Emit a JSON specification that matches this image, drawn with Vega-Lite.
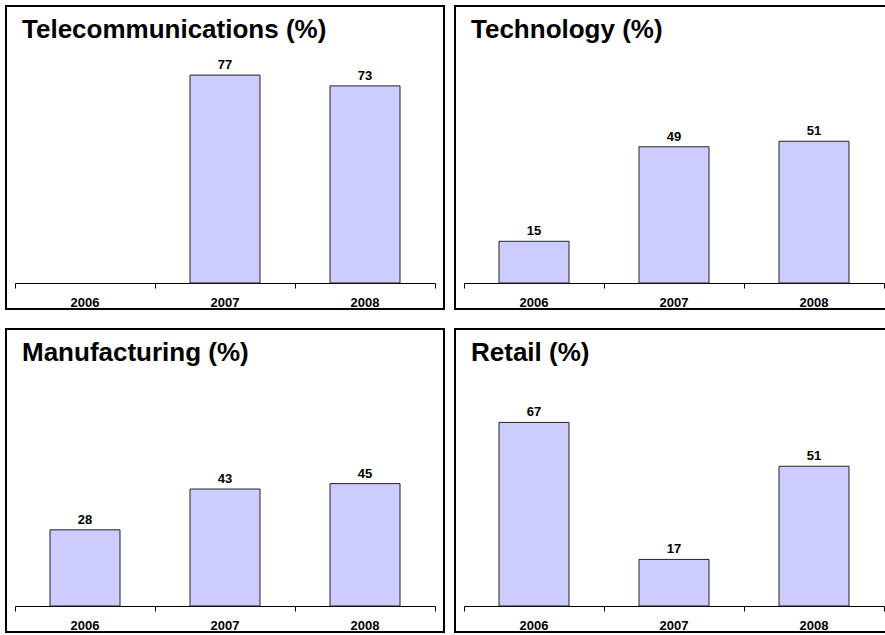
{
  "$schema": "https://vega.github.io/schema/vega-lite/v6.json",
  "padding": {"left": 5, "top": 5, "right": 0, "bottom": 0},
  "autosize": {"type": "pad"},
  "background": "white",
  "config": {
    "view": {"stroke": "black", "strokeWidth": 2},
    "font": "Liberation Sans",
    "title": {"anchor": "start", "frame": "group", "fontSize": 26, "fontWeight": "bold", "color": "black", "offset": -37, "dx": 16, "font": "Liberation Sans"},
    "axisX": {
      "title": null, "offset": -26, "domainColor": "black", "domainWidth": 1,
      "tickColor": "black", "tickSize": 5, "tickWidth": 1, "bandPosition": 1, "tickExtra": true,
      "labelFontSize": 13, "labelFontWeight": "bold", "labelColor": "black", "labelBaseline": "alphabetic",
      "labelPadding": 18, "labelAngle": 0, "grid": false, "labelFont": "Liberation Sans"
    }
  },
  "datasets": {
    "d": [
      {"sector": "Telecommunications", "year": "2007", "value": 77},
      {"sector": "Telecommunications", "year": "2008", "value": 73},
      {"sector": "Technology", "year": "2006", "value": 15},
      {"sector": "Technology", "year": "2007", "value": 49},
      {"sector": "Technology", "year": "2008", "value": 51},
      {"sector": "Manufacturing", "year": "2006", "value": 28},
      {"sector": "Manufacturing", "year": "2007", "value": 43},
      {"sector": "Manufacturing", "year": "2008", "value": 45},
      {"sector": "Retail", "year": "2006", "value": 67},
      {"sector": "Retail", "year": "2007", "value": 17},
      {"sector": "Retail", "year": "2008", "value": 51}
    ]
  },
  "spacing": 18,
  "vconcat": [
    {
      "spacing": 9,
      "hconcat": [
        {
          "title": "Telecommunications (%)",
          "width": 438, "height": 303,
          "data": {"name": "d"},
          "transform": [{"filter": "datum.sector === 'Telecommunications'"}],
          "encoding": {
            "x": {"field": "year", "type": "nominal", "title": null, "scale": {"domain": ["2006", "2007", "2008"], "range": [9, 429], "paddingInner": 0, "paddingOuter": 0}},
            "y": {"field": "value", "type": "quantitative", "axis": null, "scale": {"domain": [-9.63, 102.59]}}
          },
          "layer": [
            {"mark": {"type": "bar", "width": {"band": 0.5}, "fill": "#CCCCFF", "stroke": "#222222", "strokeWidth": 1}, "encoding": {"y2": {"datum": 0}}},
            {"mark": {"type": "text", "dy": -6, "fontSize": 13, "fontWeight": "bold", "baseline": "alphabetic", "color": "black"}, "encoding": {"text": {"field": "value"}}}
          ]
        },
        {
          "title": "Technology (%)",
          "width": 438, "height": 303,
          "data": {"name": "d"},
          "transform": [{"filter": "datum.sector === 'Technology'"}],
          "encoding": {
            "x": {"field": "year", "type": "nominal", "title": null, "scale": {"domain": ["2006", "2007", "2008"], "range": [9, 429], "paddingInner": 0, "paddingOuter": 0}},
            "y": {"field": "value", "type": "quantitative", "axis": null, "scale": {"domain": [-9.35, 99.64]}}
          },
          "layer": [
            {"mark": {"type": "bar", "width": {"band": 0.5}, "fill": "#CCCCFF", "stroke": "#222222", "strokeWidth": 1}, "encoding": {"y2": {"datum": 0}}},
            {"mark": {"type": "text", "dy": -6, "fontSize": 13, "fontWeight": "bold", "baseline": "alphabetic", "color": "black"}, "encoding": {"text": {"field": "value"}}}
          ]
        }
      ]
    },
    {
      "spacing": 9,
      "hconcat": [
        {
          "title": "Manufacturing (%)",
          "width": 438, "height": 303,
          "data": {"name": "d"},
          "transform": [{"filter": "datum.sector === 'Manufacturing'"}],
          "encoding": {
            "x": {"field": "year", "type": "nominal", "title": null, "scale": {"domain": ["2006", "2007", "2008"], "range": [9, 429], "paddingInner": 0, "paddingOuter": 0}},
            "y": {"field": "value", "type": "quantitative", "axis": null, "scale": {"domain": [-9.56, 101.84]}}
          },
          "layer": [
            {"mark": {"type": "bar", "width": {"band": 0.5}, "fill": "#CCCCFF", "stroke": "#222222", "strokeWidth": 1}, "encoding": {"y2": {"datum": 0}}},
            {"mark": {"type": "text", "dy": -6, "fontSize": 13, "fontWeight": "bold", "baseline": "alphabetic", "color": "black"}, "encoding": {"text": {"field": "value"}}}
          ]
        },
        {
          "title": "Retail (%)",
          "width": 438, "height": 303,
          "data": {"name": "d"},
          "transform": [{"filter": "datum.sector === 'Retail'"}],
          "encoding": {
            "x": {"field": "year", "type": "nominal", "title": null, "scale": {"domain": ["2006", "2007", "2008"], "range": [9, 429], "paddingInner": 0, "paddingOuter": 0}},
            "y": {"field": "value", "type": "quantitative", "axis": null, "scale": {"domain": [-9.49, 101.09]}}
          },
          "layer": [
            {"mark": {"type": "bar", "width": {"band": 0.5}, "fill": "#CCCCFF", "stroke": "#222222", "strokeWidth": 1}, "encoding": {"y2": {"datum": 0}}},
            {"mark": {"type": "text", "dy": -6, "fontSize": 13, "fontWeight": "bold", "baseline": "alphabetic", "color": "black"}, "encoding": {"text": {"field": "value"}}}
          ]
        }
      ]
    }
  ]
}
